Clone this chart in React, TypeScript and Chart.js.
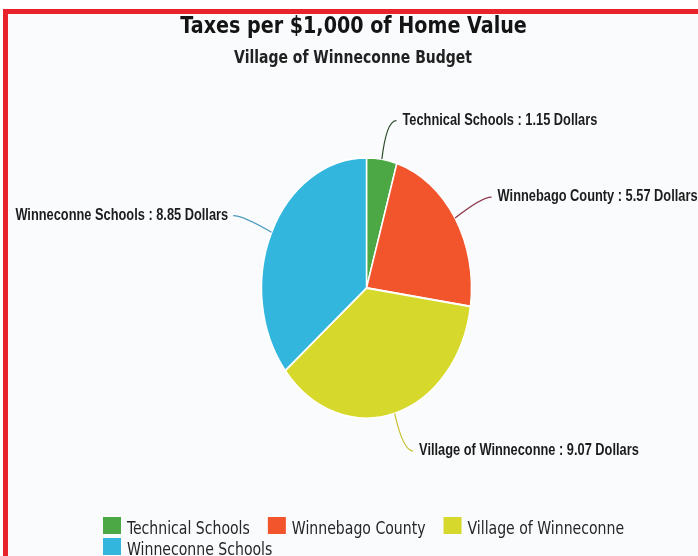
import { useEffect, useRef } from "react";
import { Chart, registerables } from "chart.js";

Chart.register(...registerables);

const categories = ["Technical Schools", "Winnebago County", "Village of Winneconne", "Winneconne Schools"];
const values = [1.15, 5.57, 9.07, 8.85];
const unit = "Dollars";
const titleText = "Taxes per $1,000 of Home Value";
const subtitleText = "Village of Winneconne Budget";
const sliceColors = ["#4ba845", "#f2552c", "#d6d82c", "#33b6de"];
const leaderColors = ["#2e4d2a", "#8c3447", "#c9bf2e", "#4b9cbc"];

const SY = 1.24; // vertical stretch of the scanned page

function fitSize(ctx: CanvasRenderingContext2D, text: string, weight: string, family: string, target: number) {
  ctx.font = `${weight} 100px ${family}`;
  const w = ctx.measureText(text).width;
  return (100 * target) / w;
}

function drawStretched(ctx: CanvasRenderingContext2D, text: string, x: number, y: number, align: CanvasTextAlign, baseline: CanvasTextBaseline = "alphabetic", stretch = SY) {
  ctx.save();
  ctx.translate(x, y);
  ctx.scale(1, stretch);
  ctx.textAlign = align;
  ctx.textBaseline = baseline;
  ctx.fillText(text, 0, 0);
  ctx.restore();
}

const TITLE_FONT = '"DejaVu Sans", sans-serif';
const LABEL_FONT = '"Liberation Sans Narrow", "Liberation Sans", Arial, sans-serif';
const LEGEND_FONT = '"DejaVu Sans Condensed", "DejaVu Sans", sans-serif';

const scanPlugin = {
  id: "scan",
  beforeDraw(chart: any) {
    const { ctx, width, height } = chart;
    ctx.save();
    ctx.fillStyle = "#ffffff";
    ctx.fillRect(0, 0, width, height);
    ctx.fillStyle = "#f9fbfd";
    ctx.fillRect(8, 14, width - 8, height - 14);
    ctx.fillStyle = "#e8232b";
    ctx.fillRect(3, 9, width - 3, 5);
    ctx.fillRect(3, 9, 5, height - 9);
    ctx.restore();
  },
  beforeDatasetsDraw(chart: any) {
    const ctx = chart.ctx;
    const arc = chart.getDatasetMeta(0).data[0];
    const { x, y } = arc.getProps(["x", "y"], true);
    ctx.save();
    ctx.translate(x, y);
    ctx.scale(1, SY);
    ctx.translate(-x, -y);
  },
  afterDatasetsDraw(chart: any) {
    const ctx: CanvasRenderingContext2D = chart.ctx;
    ctx.restore();

    // Title & subtitle
    ctx.save();
    ctx.fillStyle = "#141414";
    const ts = fitSize(ctx, titleText, "bold", TITLE_FONT, 347);
    ctx.font = `bold ${ts}px ${TITLE_FONT}`;
    drawStretched(ctx, titleText, 353.5, 33, "center", "alphabetic", 1.2);
    const ss = fitSize(ctx, subtitleText, "bold", TITLE_FONT, 238);
    ctx.font = `bold ${ss}px ${TITLE_FONT}`;
    ctx.fillStyle = "#222222";
    drawStretched(ctx, subtitleText, 353, 63, "center", "alphabetic", 1.2);
    ctx.restore();

    // Slice labels with leader lines
    const meta = chart.getDatasetMeta(0);
    const labels: string[] = chart.data.labels;
    const data: number[] = chart.data.datasets[0].data;
    ctx.save();
    const ls = fitSize(ctx, `${labels[0]} : ${data[0].toFixed(2)} ${unit}`, "bold", LABEL_FONT, 195);
    ctx.font = `bold ${ls}px ${LABEL_FONT}`;
    meta.data.forEach((el: any, i: number) => {
      const { x, y, startAngle, endAngle, outerRadius } = el.getProps(["x", "y", "startAngle", "endAngle", "outerRadius"], true);
      const a = (startAngle + endAngle) / 2;
      const cx = Math.cos(a);
      const sy = Math.sin(a) * SY;
      const p0x = x + outerRadius * cx;
      const p0y = y + outerRadius * sy;
      const p1x = x + outerRadius * 1.3 * cx;
      const p1y = y + outerRadius * 1.3 * sy;
      const right = cx >= 0;
      const p2x = p1x + (right ? 10 : -10);
      const p2y = p1y;
      ctx.strokeStyle = leaderColors[i];
      ctx.lineWidth = 1.2;
      ctx.beginPath();
      ctx.moveTo(p0x, p0y);
      ctx.quadraticCurveTo(p1x, p1y, p2x, p2y);
      ctx.stroke();
      ctx.fillStyle = "#1c1c1c";
      const text = `${labels[i]} : ${data[i].toFixed(2)} ${unit}`;
      drawStretched(ctx, text, p2x + (right ? 6 : -5), p2y, right ? "left" : "right", "middle");
    });
    ctx.restore();

    // Legend
    ctx.save();
    const gs = fitSize(ctx, labels[0], "normal", LEGEND_FONT, 123);
    ctx.font = `normal ${gs}px ${LEGEND_FONT}`;
    let lx = 103;
    let row = 0;
    const rowTop = [517, 538];
    const maxX = 650;
    labels.forEach((lab, i) => {
      const tw = ctx.measureText(lab).width;
      if (lx + 24 + tw > maxX) {
        row += 1;
        lx = 103;
      }
      const top = rowTop[row] ?? rowTop[0] + row * 21;
      ctx.fillStyle = sliceColors[i];
      ctx.fillRect(lx, top, 18, 17);
      ctx.fillStyle = "#262626";
      drawStretched(ctx, lab, lx + 24, top + 17, "left", "alphabetic", 1.15);
      lx = lx + 24 + tw + 18;
    });
    ctx.restore();
  },
};

export default function App() {
  const ref = useRef<HTMLCanvasElement>(null);
  useEffect(() => {
    document.body.style.margin = "0";
    const chart = new Chart(ref.current!, {
      type: "pie",
      data: {
        labels: categories,
        datasets: [
          {
            data: values,
            backgroundColor: sliceColors,
            borderColor: "#ffffff",
            borderWidth: 1.5,
            radius: 105,
            clip: false,
          } as any,
        ],
      },
      options: {
        responsive: false,
        animation: false,
        events: [],
        layout: { padding: { left: 35, right: 0, top: 20, bottom: 0 } },
        plugins: {
          legend: { display: false },
          title: { display: false },
          tooltip: { enabled: false },
        },
      },
      plugins: [scanPlugin],
    });
    return () => chart.destroy();
  }, []);
  return <canvas ref={ref} width={698} height={556} style={{ display: "block" }} />;
}
